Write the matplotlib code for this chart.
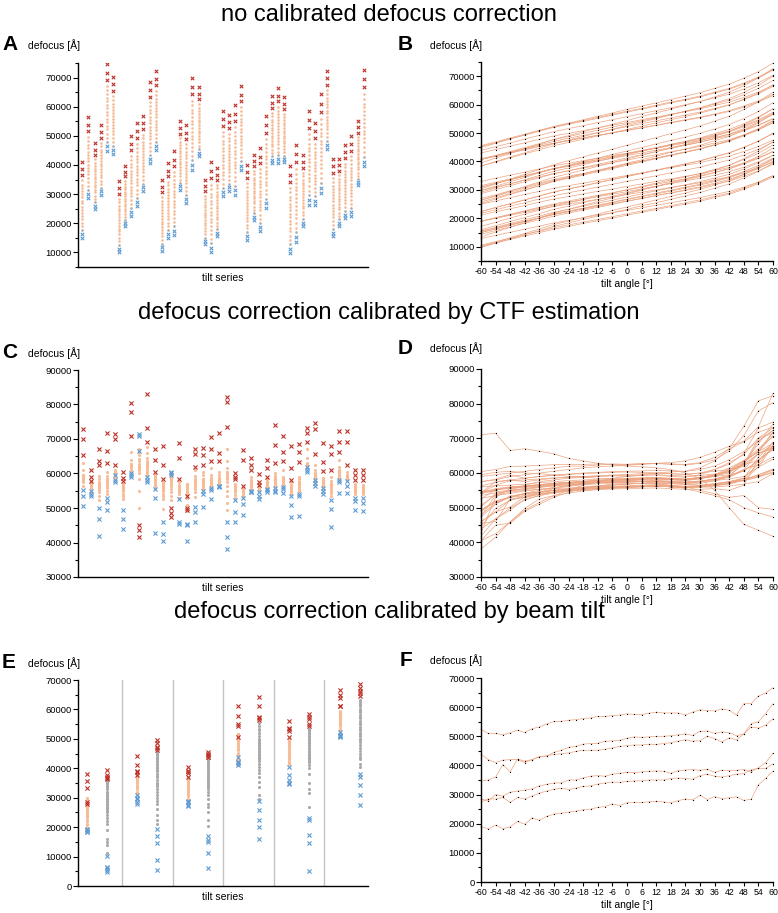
import numpy as np
import matplotlib.pyplot as plt
from matplotlib.ticker import MultipleLocator

plt.rcParams['font.family'] = ['Liberation Sans', 'DejaVu Sans']
plt.rcParams['axes.unicode_minus'] = False

W, H = 778, 913

# tilt angles (deg)
tilt_coarse = [-60, -54, -48, -42, -36, -30, -24, -18, -12, -6, 0,
               6, 12, 18, 24, 30, 36, 42, 48, 54, 60]
tilt_fine = [-60, -57, -54, -51, -48, -45, -42, -39, -36, -33, -30, -27, -24, -21,
             -18, -15, -12, -9, -6, -3, 0, 3, 6, 9, 12, 15, 18, 21, 24, 27, 30,
             33, 36, 39, 42, 45, 48, 51, 54, 57, 60]

# defocus per tilt series, in 1000 A, at tilt_coarse angles
# no calibrated defocus correction (panels A, B)
no_corr_kA = [
    [15, 16.3, 17.6, 18.9, 20.2, 21.6, 22.6, 23.6, 24.7, 25.7, 26.8, 27.8, 28.9, 29.9, 31, 32, 33.3, 34.7, 36.5, 38.6, 41.2],
    [28.7, 30.1, 31.5, 32.9, 34.3, 35.7, 36.8, 37.9, 39, 40.1, 41.3, 42.4, 43.5, 44.6, 45.7, 46.8, 48.2, 49.6, 51.6, 53.8, 56.6],
    [25, 26.1, 27.3, 28.4, 29.5, 30.6, 31.5, 32.4, 33.3, 34.2, 35.1, 36, 36.9, 37.8, 38.7, 39.6, 40.8, 41.9, 43.5, 45.3, 47.5],
    [29.8, 31, 32.2, 33.4, 34.6, 35.8, 36.7, 37.7, 38.6, 39.6, 40.5, 41.5, 42.4, 43.4, 44.3, 45.3, 46.5, 47.7, 49.3, 51.2, 53.6],
    [44.9, 46.4, 47.9, 49.4, 50.8, 52.3, 53.5, 54.7, 55.9, 57.1, 58.3, 59.5, 60.6, 61.8, 63, 64.2, 65.7, 67.2, 69.3, 71.6, 74.6],
    [43.9, 45.2, 46.5, 47.9, 49.2, 50.5, 51.6, 52.6, 53.7, 54.7, 55.8, 56.8, 57.9, 58.9, 60, 61.1, 62.4, 63.7, 65.5, 67.7, 70.3],
    [10.1, 11.3, 12.6, 13.8, 15, 16.2, 17.2, 18.2, 19.2, 20.1, 21.1, 22.1, 23.1, 24.1, 25, 26, 27.3, 28.5, 30.2, 32.2, 34.6],
    [19, 20, 21.1, 22.1, 23.2, 24.2, 25, 25.9, 26.7, 27.5, 28.4, 29.2, 30, 30.9, 31.7, 32.5, 33.6, 34.6, 36.1, 37.7, 39.8],
    [22.4, 23.8, 25.2, 26.5, 27.9, 29.3, 30.4, 31.5, 32.6, 33.7, 34.8, 35.9, 37, 38.1, 39.2, 40.3, 41.7, 43.1, 45, 47.2, 50],
    [25.8, 27.2, 28.7, 30.1, 31.5, 33, 34.1, 35.2, 36.4, 37.5, 38.7, 39.8, 41, 42.1, 43.2, 44.4, 45.8, 47.3, 49.3, 51.5, 54.4],
    [31, 32.3, 33.6, 34.9, 36.2, 37.5, 38.5, 39.5, 40.6, 41.6, 42.7, 43.7, 44.7, 45.8, 46.8, 47.8, 49.1, 50.4, 52.2, 54.3, 56.9],
    [40.7, 42.1, 43.5, 44.9, 46.3, 47.7, 48.8, 49.9, 51, 52.1, 53.2, 54.3, 55.4, 56.5, 57.7, 58.8, 60.2, 61.6, 63.5, 65.7, 68.5],
    [45.3, 46.6, 48, 49.3, 50.7, 52, 53.1, 54.1, 55.2, 56.3, 57.4, 58.4, 59.5, 60.6, 61.6, 62.7, 64.1, 65.4, 67.3, 69.4, 72.1],
    [10.6, 11.8, 13, 14.3, 15.5, 16.7, 17.7, 18.7, 19.6, 20.6, 21.6, 22.6, 23.5, 24.5, 25.5, 26.5, 27.7, 28.9, 30.6, 32.6, 35],
    [15, 16.3, 17.6, 18.9, 20.1, 21.4, 22.5, 23.5, 24.5, 25.5, 26.6, 27.6, 28.6, 29.6, 30.7, 31.7, 33, 34.3, 36.1, 38.1, 40.7],
    [16, 17.4, 18.9, 20.3, 21.7, 23.2, 24.3, 25.5, 26.6, 27.8, 28.9, 30.1, 31.2, 32.4, 33.5, 34.7, 36.1, 37.5, 39.5, 41.8, 44.7],
    [31.5, 32.7, 33.9, 35, 36.2, 37.4, 38.3, 39.3, 40.2, 41.1, 42.1, 43, 44, 44.9, 45.8, 46.8, 48, 49.1, 50.8, 52.7, 55],
    [27, 28.3, 29.7, 31, 32.4, 33.7, 34.8, 35.8, 36.9, 38, 39.1, 40.1, 41.2, 42.3, 43.3, 44.4, 45.8, 47.1, 49, 51.1, 53.8],
    [38.4, 40, 41.6, 43.1, 44.7, 46.3, 47.6, 48.8, 50.1, 51.4, 52.6, 53.9, 55.1, 56.4, 57.7, 58.9, 60.5, 62.1, 64.3, 66.8, 70],
    [43, 44.2, 45.4, 46.6, 47.8, 49, 49.9, 50.9, 51.8, 52.8, 53.7, 54.7, 55.6, 56.6, 57.5, 58.5, 59.7, 60.9, 62.5, 64.4, 66.8],
    [12.9, 14, 15.1, 16.2, 17.3, 18.4, 19.3, 20.2, 21.1, 22, 22.8, 23.7, 24.6, 25.5, 26.4, 27.3, 28.4, 29.5, 31, 32.8, 35],
    [10.1, 11.6, 13.2, 14.7, 16.3, 17.8, 19.1, 20.3, 21.5, 22.8, 24, 25.2, 26.5, 27.7, 28.9, 30.2, 31.7, 33.3, 35.4, 37.9, 41],
    [15.5, 16.7, 17.9, 19, 20.2, 21.4, 22.3, 23.3, 24.2, 25.1, 26.1, 27, 28, 28.9, 29.8, 30.8, 32, 33.1, 34.8, 36.7, 39],
    [29.2, 30.7, 32.1, 33.6, 35.1, 36.6, 37.7, 38.9, 40.1, 41.3, 42.4, 43.6, 44.8, 46, 47.1, 48.3, 49.8, 51.3, 53.3, 55.7, 58.6],
    [31, 32.3, 33.6, 34.9, 36.3, 37.6, 38.6, 39.7, 40.7, 41.8, 42.8, 43.9, 44.9, 46, 47, 48.1, 49.4, 50.7, 52.6, 54.7, 57.3],
    [29.8, 31.3, 32.9, 34.4, 36, 37.5, 38.8, 40, 41.2, 42.5, 43.7, 44.9, 46.2, 47.4, 48.6, 49.9, 51.4, 53, 55.1, 57.6, 60.7],
    [38.4, 39.8, 41.3, 42.7, 44.1, 45.6, 46.7, 47.8, 49, 50.1, 51.3, 52.4, 53.6, 54.7, 55.8, 57, 58.4, 59.9, 61.9, 64.1, 67],
    [14.4, 15.7, 17, 18.3, 19.5, 20.8, 21.9, 22.9, 23.9, 24.9, 26, 27, 28, 29, 30.1, 31.1, 32.4, 33.7, 35.5, 37.5, 40.1],
    [21.2, 22.3, 23.4, 24.5, 25.7, 26.8, 27.7, 28.6, 29.5, 30.3, 31.2, 32.1, 33, 33.9, 34.8, 35.7, 36.8, 37.9, 39.5, 41.3, 43.5],
    [17.2, 18.6, 20.1, 21.5, 22.9, 24.4, 25.5, 26.6, 27.8, 28.9, 30.1, 31.2, 32.4, 33.5, 34.6, 35.8, 37.2, 38.7, 40.7, 42.9, 45.8],
    [25.2, 26.8, 28.4, 29.9, 31.5, 33.1, 34.3, 35.6, 36.9, 38.1, 39.4, 40.6, 41.9, 43.2, 44.4, 45.7, 47.3, 48.8, 51, 53.6, 56.7],
    [40.7, 41.8, 43, 44.1, 45.3, 46.4, 47.3, 48.3, 49.2, 50.1, 51, 51.9, 52.8, 53.8, 54.7, 55.6, 56.7, 57.9, 59.5, 61.3, 63.6],
    [40.7, 42, 43.3, 44.6, 45.8, 47.1, 48.2, 49.2, 50.2, 51.2, 52.3, 53.3, 54.3, 55.3, 56.4, 57.4, 58.7, 60, 61.8, 63.8, 66.4],
    [41, 42.1, 43.2, 44.3, 45.4, 46.5, 47.4, 48.3, 49.2, 50.1, 50.9, 51.8, 52.7, 53.6, 54.5, 55.4, 56.5, 57.6, 59.1, 60.9, 63.2],
    [9.8, 11.3, 12.8, 14.3, 15.7, 17.2, 18.4, 19.6, 20.8, 22, 23.2, 24.4, 25.5, 26.7, 27.9, 29.1, 30.6, 32.1, 34.2, 36.5, 39.5],
    [13.5, 15.2, 16.9, 18.5, 20.2, 21.9, 23.2, 24.6, 25.9, 27.2, 28.6, 29.9, 31.3, 32.6, 33.9, 35.3, 37, 38.6, 41, 43.7, 47],
    [19, 20.2, 21.5, 22.7, 23.9, 25.1, 26.1, 27.1, 28.1, 29, 30, 31, 32, 33, 33.9, 34.9, 36.2, 37.4, 39.1, 41.1, 43.5],
    [26.4, 28, 29.6, 31.2, 32.8, 34.5, 35.7, 37, 38.3, 39.6, 40.9, 42.2, 43.5, 44.8, 46, 47.3, 48.9, 50.6, 52.8, 55.4, 58.6],
    [26.4, 27.8, 29.2, 30.6, 32, 33.4, 34.5, 35.6, 36.7, 37.8, 39, 40.1, 41.2, 42.3, 43.4, 44.5, 45.9, 47.3, 49.3, 51.5, 54.3],
    [30.4, 32.1, 33.8, 35.5, 37.2, 38.9, 40.3, 41.6, 43, 44.3, 45.7, 47.1, 48.4, 49.8, 51.1, 52.5, 54.2, 55.9, 58.3, 61, 64.4],
    [45.6, 46.9, 48.3, 49.6, 51, 52.3, 53.4, 54.4, 55.5, 56.6, 57.7, 58.7, 59.8, 60.9, 61.9, 63, 64.4, 65.7, 67.6, 69.7, 72.4],
    [15.5, 16.8, 18.2, 19.5, 20.8, 22.2, 23.2, 24.3, 25.4, 26.4, 27.5, 28.6, 29.7, 30.7, 31.8, 32.9, 34.2, 35.5, 37.4, 39.5, 42.2],
    [19, 20.2, 21.3, 22.5, 23.6, 24.8, 25.7, 26.7, 27.6, 28.5, 29.4, 30.4, 31.3, 32.2, 33.2, 34.1, 35.2, 36.4, 38, 39.9, 42.2],
    [21.8, 23, 24.3, 25.5, 26.8, 28, 29, 30, 31, 32, 33, 34, 35, 36, 37, 38, 39.3, 40.5, 42.3, 44.3, 46.8],
    [22.4, 23.8, 25.1, 26.5, 27.9, 29.3, 30.3, 31.4, 32.5, 33.6, 34.7, 35.8, 36.9, 38, 39.1, 40.2, 41.6, 43, 44.9, 47.1, 49.8],
    [33, 34.1, 35.2, 36.3, 37.4, 38.5, 39.4, 40.3, 41.2, 42.1, 42.9, 43.8, 44.7, 45.6, 46.5, 47.4, 48.5, 49.6, 51.1, 52.9, 55.1],
    [39.5, 41.2, 42.8, 44.5, 46.1, 47.8, 49.1, 50.5, 51.8, 53.1, 54.4, 55.8, 57.1, 58.4, 59.8, 61.1, 62.7, 64.4, 66.7, 69.4, 72.7],
]

# defocus correction calibrated by CTF estimation (panels C, D)
ctf_corr_kA = [
    [50.7, 53.6, 55.1, 56.5, 57.5, 58, 58.5, 58.7, 59, 59.2, 59, 59.3, 59.5, 59, 58.8, 59.5, 61, 63, 65.3, 70.1, 73],
    [53.6, 54.2, 54.8, 55.2, 55.8, 56.3, 56.6, 57, 57.2, 57.3, 57.5, 57.6, 57.4, 57.2, 56.8, 56.5, 56.8, 57.3, 57.8, 59, 60.9],
    [41.8, 46.8, 49.9, 52.2, 53.5, 54.5, 55.2, 55.8, 56.2, 56.5, 56.8, 57, 57.2, 57, 56.8, 57.5, 58.3, 59.4, 62.4, 63.6, 67.2],
    [49.3, 51.7, 53, 54.2, 55, 55.8, 56.4, 57, 57.5, 57.8, 58, 58.2, 58.4, 58.2, 58, 58.5, 59.2, 60.4, 63, 66.5, 71.8],
    [57.5, 58.2, 59.5, 58.5, 59, 59.3, 59.6, 59.8, 60, 60.2, 60.3, 60.2, 60, 59.8, 59.6, 60, 60.5, 61, 62.5, 70, 71.5],
    [43.9, 46.8, 49.3, 52.5, 53.5, 54.2, 54.8, 55.2, 55.5, 55.7, 55.8, 56, 56.2, 56, 55.8, 56, 56.5, 57, 57.8, 58.8, 60.4],
    [59, 59.5, 60, 60.5, 61, 61.5, 62, 62, 62.3, 62.5, 62.5, 62.7, 62.8, 62.5, 62.3, 62.8, 63.8, 66.3, 70.8, 77.9, 80.3],
    [71, 71.5, 66.5, 67, 66.3, 65.5, 64.2, 63.5, 62.8, 62.3, 62, 61.8, 61.5, 61, 60, 58.5, 55, 50, 45.2, 43.5, 41.7],
    [57.5, 58, 59, 59.5, 60, 60.5, 61, 61.5, 61.8, 62, 62.2, 62.5, 62.8, 63, 63.5, 64.5, 66, 67.7, 69.2, 73.3, 83],
    [42.7, 53, 55.6, 55.8, 56.3, 56.8, 57.2, 57.5, 57.8, 58, 58.2, 58.4, 58.5, 58.3, 58, 58.5, 59, 59.5, 60.5, 63.8, 67],
    [40.5, 42.5, 45.9, 49.8, 52.5, 53.5, 54.2, 54.8, 55.3, 55.6, 55.8, 56, 56.2, 56, 55.8, 56.3, 57, 57.5, 58.5, 62.6, 67.9],
    [59.5, 60.2, 60.5, 60, 59.8, 59.5, 59, 58.8, 58.5, 58.2, 58, 57.5, 57, 56.3, 55.5, 54.5, 53.5, 52.3, 50, 48.5, 47.3],
    [45.5, 46, 52.5, 53, 54, 54.5, 55, 55.3, 55.5, 55.8, 56, 56.2, 56.3, 56.2, 56, 56.3, 56.8, 57.5, 58.5, 64.6, 68.7],
    [40.5, 45, 45.5, 49, 51, 53, 54.5, 55.5, 56.2, 56.8, 57, 57, 56.8, 56.5, 56, 55, 54, 53, 53.5, 50, 49.5],
    [46, 48.8, 50.2, 53.1, 54.5, 55.5, 56.2, 56.8, 57.3, 57.6, 57.8, 58, 58.2, 58, 57.8, 58.3, 59.3, 61, 61.9, 65.6, 67.2],
    [50.2, 54, 55, 55.5, 56, 56.5, 57, 57.3, 57.6, 57.8, 58, 58.2, 58.3, 58.1, 58, 58.5, 59.5, 60.5, 62.5, 65.5, 67.5],
    [52.5, 55.3, 55.8, 56.2, 56.6, 57, 57.3, 57.6, 57.9, 58.1, 58.3, 58.5, 58.6, 58.4, 58.2, 58.7, 59.5, 61.5, 63.5, 67, 70.5],
    [56, 56.3, 56.5, 56.8, 57.2, 57.5, 57.8, 58, 58.2, 58.4, 58.5, 58.6, 58.7, 58.5, 58.3, 58.8, 59.5, 60.4, 63.6, 66, 71.6],
    [38.1, 41.5, 45.9, 49.3, 51.5, 53.5, 55, 56.5, 57.5, 58.5, 59, 59.5, 60, 60.3, 60.5, 61.5, 63.5, 67, 73.5, 80.8, 82.3],
    [45.9, 48.8, 52.2, 53, 53.8, 54.5, 55, 55.3, 55.6, 55.8, 56, 56.2, 56.3, 56.1, 55.9, 56.2, 56.5, 57, 58.5, 59, 60],
    [48, 51.2, 53, 53.5, 54, 54.5, 54.8, 55, 55.2, 55.4, 55.5, 55.6, 55.7, 55.5, 55.3, 55.3, 55.5, 55, 56.5, 63.8, 66.7],
    [54.5, 54.6, 55, 55.5, 56, 56.3, 56.6, 56.9, 57.2, 57.4, 57.5, 57.6, 57.8, 57.6, 57.4, 57.7, 58.2, 59, 61, 62.4, 64.6],
    [52.7, 53.5, 54.5, 55, 55.3, 55.5, 55.7, 55.8, 56, 56.1, 56.2, 56.3, 56.2, 56, 55.8, 55.9, 56, 56.3, 56.8, 57.5, 59.8],
    [54.6, 55.2, 55.6, 56, 56.3, 56.6, 56.8, 57, 57.2, 57.3, 57.4, 57.5, 57.6, 57.4, 57.2, 57.4, 57.8, 58.3, 59, 61.7, 64],
    [54.5, 55, 55.9, 56.2, 56.6, 57, 57.3, 57.6, 57.9, 58.1, 58.3, 58.5, 58.6, 58.4, 58.2, 58.6, 59.2, 60, 62.9, 68.4, 74.2],
    [54.3, 55.5, 56, 56.3, 56.7, 57, 57.3, 57.6, 57.8, 58, 58.2, 58.3, 58.4, 58.2, 58, 58.4, 59, 61, 63.5, 66.2, 70.8],
    [47.3, 51, 53.4, 54, 54.5, 55, 55.4, 55.7, 56, 56.2, 56.3, 56.5, 56.6, 56.4, 56.2, 56.4, 56.8, 57.5, 58, 61.7, 67.9],
    [47.6, 53.5, 54.1, 54.8, 55.3, 55.8, 56.2, 56.6, 56.9, 57.1, 57.3, 57.5, 57.6, 57.4, 57.2, 57.6, 58.3, 59, 63.3, 66.2, 68.5],
    [60.4, 61, 61.9, 62, 62.2, 62.4, 62.5, 62.5, 62.6, 62.6, 62.5, 62.6, 62.7, 62.6, 62.5, 63, 64.5, 67, 69, 71.8, 73.2],
    [56.3, 57.3, 58, 57.5, 58, 58.5, 58.8, 59, 59.2, 59.4, 59.6, 59.8, 60, 59.8, 59.6, 60, 61, 62.5, 65.6, 73, 74.7],
    [54.1, 55, 55.9, 56.2, 56.5, 56.8, 57, 57.2, 57.4, 57.5, 57.6, 57.7, 57.8, 57.6, 57.4, 57.6, 58, 58.8, 60.7, 63.3, 68.9],
    [44.5, 49.8, 52.2, 53.5, 54.3, 55, 55.5, 56, 56.3, 56.6, 56.8, 57, 57.1, 56.9, 56.7, 57, 57.7, 59, 61, 65.6, 67.9],
    [54.3, 57.5, 58, 58.5, 59, 59.4, 59.7, 60, 60.2, 60.4, 60.5, 60.6, 60.8, 60.6, 60.5, 61, 62, 63.8, 66.2, 69.2, 72.3],
    [54.3, 56.5, 57.8, 58, 58.3, 58.6, 58.8, 59, 59.1, 59.2, 59.3, 59.4, 59.5, 59.3, 59.1, 59.3, 59.7, 60.4, 62.4, 69.2, 72.3],
    [49.3, 52, 53, 54.1, 54.6, 55, 55.3, 55.6, 55.8, 56, 56.1, 56.2, 56.3, 56.2, 56, 56.2, 56.5, 57, 58, 59.5, 61.1],
    [49, 51.5, 53, 54, 54.5, 54.9, 55.2, 55.5, 55.7, 55.9, 56, 56.1, 56.2, 56.1, 55.9, 56, 56.3, 56.8, 58, 59.5, 61],
]

# defocus correction calibrated by beam tilt (panel F, orange columns in E), at tilt_fine
beam_tilt_kA = [
    [19, 18.2, 19.5, 18.3, 18.9, 20.8, 19.8, 22, 21.2, 22.5, 23.3, 23.6, 24, 24.3, 24.8, 25, 25.6, 25.9, 26.8, 26.2, 27.2,
     27.3, 27.3, 27.5, 27.7, 27.5, 27.2, 27.9, 28.5, 28.2, 29.8, 28.3, 29.3, 28.6, 28.9, 29.2, 28, 28.4, 33.3, 35.6, 38],
    [28.5, 27.8, 30, 29.5, 30.8, 31.2, 31.5, 32, 33, 33.5, 34, 34, 35, 35, 35.7, 36.3, 36.5, 36.3, 37, 37.3, 37.6,
     37.5, 37.8, 38, 38.1, 38, 37.3, 38.2, 38.4, 38.6, 38.3, 38.7, 37.6, 38.4, 38.2, 38.3, 38.6, 37.8, 39.2, 41, 44.2],
    [27.5, 28.5, 28.5, 29, 27.3, 29, 28.5, 29.5, 30.5, 31.2, 31.8, 32.2, 31.7, 32.2, 32.8, 33, 33.6, 34, 34.3, 34.2, 34.5,
     34.7, 34.7, 35, 35, 35, 35.5, 35.7, 35.5, 35.3, 36.5, 37, 36.3, 36, 36.5, 37, 37.2, 38.5, 39, 39, 40.5],
    [43.8, 42, 41, 41.8, 42, 42, 41, 42, 43, 43.2, 44.5, 45.2, 46.2, 46.5, 47.3, 47.5, 47.6, 48.3, 48.4, 48.6, 49.3,
     49.8, 49.6, 49.8, 50, 50, 50.2, 50.5, 50.8, 50.3, 51.7, 51.8, 51, 51.5, 51.2, 50.2, 50.8, 54.3, 55, 57.8, 61.2],
    [34.7, 35, 36, 40.3, 37.8, 42.2, 41.5, 42, 43, 43.3, 43.8, 44, 44.3, 44.8, 45.2, 45.2, 45.2, 45.5, 46, 46.5, 46.8,
     47, 47, 47.3, 47.2, 47.5, 47.8, 48.3, 48.8, 48.3, 48.5, 50, 49.2, 48, 49.5, 48.8, 50.8, 53.2, 52.8, 53.8, 56],
    [52.4, 51, 51, 50.5, 51.2, 52.1, 51.3, 52.6, 53.2, 54.2, 55.1, 55.1, 55.5, 55.7, 56.1, 56.3, 56.8, 56.8, 57.1, 57.3, 57.7,
     57.5, 57.4, 57.9, 58.3, 58, 58, 58, 57.3, 58.3, 59.1, 58.8, 58.7, 59.4, 58.9, 57.3, 61.2, 61.2, 63.8, 64.9, 66.7],
]
# order of the F series inside the six groups of panel E
beam_tilt_groups = [0, 1, 2, 3, 4, 5]

# grey columns of panel E (second series of each group), 1000 A
beam_tilt_other_kA = [
    [4.9, 5.4, 6.0, 6.6, 10.2, 11.2, 14, 15, 16, 19, 21, 22, 23, 24, 25, 25.5, 26, 26.5, 27, 27.5, 28,
     28.5, 29, 29.5, 30, 30.5, 31, 31.5, 32, 33, 33.5, 34, 34.5, 35, 35.5, 36, 36.3, 36.8, 37.2, 37.6, 39.3],
    [5.6, 8.7, 14.5, 17, 19.5, 21, 22.5, 24, 26, 28, 29, 30, 31, 32, 33, 34, 34.5, 35, 36, 37, 37.5,
     38, 39, 39.5, 40, 40.5, 41, 41.5, 42, 42.5, 43, 43.5, 44, 44.5, 45, 45.5, 46.2, 47, 47.3, 48.7, 49.6],
    [6.2, 11.3, 15, 15.6, 17, 20.5, 22.5, 25, 27, 28, 29.5, 31, 32, 33, 33.5, 34, 34.5, 35, 35.5, 36, 36.5,
     37, 37.5, 38, 38.5, 39, 39.5, 40, 40.5, 41, 41.5, 42, 42.3, 42.7, 43, 43.3, 43.7, 44, 44.5, 45, 45.6],
    [16, 20.2, 22.4, 25.8, 29, 29.5, 31, 33.5, 35.5, 37, 38.5, 39.5, 40.5, 41.5, 42.5, 43, 43.5, 44, 44.5, 45, 45.5,
     46, 46.5, 47, 47.5, 48, 48.5, 49, 49.5, 50, 51, 52, 53, 53.5, 54.5, 55.5, 56.3, 57, 57.5, 61.2, 64.3],
    [5, 14.5, 17.5, 22.3, 23, 27, 31.5, 33, 35, 38, 40, 41, 42, 42.5, 43, 43.5, 44, 44.5, 45, 45.5, 46,
     46.5, 47, 47.5, 48, 48.5, 49, 49.5, 50, 50.5, 51, 51.5, 52, 52.5, 53, 53.5, 54.2, 55.2, 56.6, 57.5, 58.6],
    [27.5, 30.9, 34.4, 37.2, 38.2, 40.5, 41.5, 43, 44, 45, 46, 47, 48, 49, 49.5, 50, 51, 51.5, 52, 53, 53.5,
     54, 55, 55.5, 56, 57, 57.5, 58, 59, 59.5, 60, 61, 61.5, 62, 62.5, 63.3, 64.6, 65.5, 66.2, 67.2, 68.6],
]

ORANGE = '#f7bb95'
LINE = '#eda582'
RED = '#be3127'
BLUE = '#5e9bd3'
GREY = '#a9a9a9'

fig = plt.figure(figsize=(W / 100, H / 100), dpi=100)


def add_ax(l, t, r, b):
    return fig.add_axes([l / W, 1 - b / H, (r - l) / W, (b - t) / H])


def style(ax, ylo, yhi):
    for s in ['top', 'right']:
        ax.spines[s].set_visible(False)
    for s in ['left', 'bottom']:
        ax.spines[s].set_linewidth(1.0)
    ax.set_ylim(ylo, yhi)
    ax.yaxis.set_major_locator(MultipleLocator(10000))
    ax.yaxis.set_minor_locator(MultipleLocator(5000))
    ax.tick_params(axis='y', which='major', length=3.5, width=0.8, labelsize=6.8, pad=1)
    ax.tick_params(axis='y', which='minor', length=2.2, width=0.8)
    ax.set_facecolor('none')


def label(xl, xt, y, letter):
    fig.text(xl / W, 1 - y / H, letter, fontsize=15, fontweight='bold', va='center')
    fig.text(xt / W, 1 - y / H, 'defocus [Å]', fontsize=7.5, va='center')


def columns(ax, xs, series, n_blue, n_grey, n_red, s_dot, s_x, base=ORANGE):
    for x, vals in zip(xs, series):
        v = np.array(vals) * 1000
        n = len(v)
        groups = [
            (slice(n_blue + n_grey, n - n_red), base, 'o', s_dot),
            (slice(n_blue, n_blue + n_grey), GREY, 'o', s_dot),
            (slice(0, n_blue), BLUE, 'x', s_x),
            (slice(n - n_red, n), RED, 'x', s_x),
        ]
        for sl, col, mk, s in groups:
            vv = v[sl]
            if len(vv) == 0:
                continue
            if mk == 'o':
                ax.scatter(np.full(len(vv), x), vv, s=s, color=col, lw=0, zorder=3)
            else:
                ax.scatter(np.full(len(vv), x), vv, s=s, color=col, marker='x', lw=0.8, zorder=4)


def lines(ax, angles, series):
    for vals in series:
        v = np.array(vals) * 1000
        ax.plot(angles, v, color=LINE, lw=0.5, zorder=2, clip_on=False)
        ax.plot(angles, v, ls='none', marker='o', ms=0.9, mfc='k', mec='none', zorder=3, clip_on=False)
    ax.set_xlim(-60, 60)
    ax.set_xticks(tilt_coarse)
    ax.tick_params(axis='x', length=3, width=0.8, labelsize=6.3, pad=1.5)
    ax.set_xlabel('tilt angle [°]', fontsize=7.5, labelpad=2)


# titles
fig.text(0.5, 1 - 15 / H, 'no calibrated defocus correction', ha='center', va='center', fontsize=17)
fig.text(0.5, 1 - 313 / H, 'defocus correction calibrated by CTF estimation', ha='center', va='center', fontsize=17)
fig.text(0.5, 1 - 612 / H, 'defocus correction calibrated by beam tilt', ha='center', va='center', fontsize=17)

# A
axA = add_ax(78, 63, 368, 267)
style(axA, 5000, 75000)
xa = np.arange(1, len(no_corr_kA) + 1)
columns(axA, xa, no_corr_kA, 2, 1, 3, 3.5, 6)
axA.set_xlim(0.3, len(no_corr_kA) + 0.7)
axA.set_xticks([])
axA.set_xlabel('tilt series', fontsize=7.5, labelpad=4)
label(2, 28, 45, 'A')

# B
axB = add_ax(481, 62, 773, 261)
style(axB, 5000, 75000)
lines(axB, tilt_coarse, no_corr_kA)
label(398, 430, 45, 'B')

# C
axC = add_ax(78, 370, 368, 577)
style(axC, 30000, 90000)
xc = np.arange(1, len(ctf_corr_kA) + 1)
columns(axC, xc, ctf_corr_kA, 3, 0, 3, 5, 9)
axC.set_xlim(0.35, len(ctf_corr_kA) + 0.65)
axC.set_xticks([])
axC.set_xlabel('tilt series', fontsize=7.5, labelpad=4)
label(2, 28, 353, 'C')

# D
axD = add_ax(481, 369, 773, 577)
style(axD, 30000, 90000)
lines(axD, tilt_coarse, ctf_corr_kA)
label(398, 430, 348, 'D')

# E
axE = add_ax(78, 680, 368, 886)
style(axE, 0, 70000)
xe_main = [5 * g for g in range(6)]
xe_other = [5 * g + 2 for g in range(6)]
columns(axE, xe_main, [beam_tilt_kA[i] for i in beam_tilt_groups], 5, 0, 5, 5, 9)
columns(axE, xe_other, beam_tilt_other_kA, 5, 0, 5, 5, 9, base=GREY)
for g in range(5):
    axE.axvline(5 * g + 3.5, color='#c4c4c4', lw=1.0, zorder=1)
axE.set_xlim(-0.85, 27.8)
axE.set_xticks([])
axE.set_xlabel('tilt series', fontsize=7.5, labelpad=4)
label(2, 28, 663, 'E')

# F
axF = add_ax(481, 678, 773, 882)
style(axF, 0, 70000)
lines(axF, tilt_fine, beam_tilt_kA)
label(400, 430, 660, 'F')

fig.savefig('out.png', dpi=100)
